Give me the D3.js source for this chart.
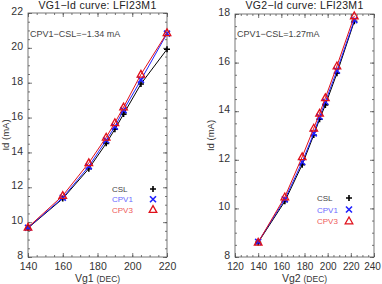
<!DOCTYPE html>
<html>
<head>
<meta charset="utf-8">
<script src="https://cdn.jsdelivr.net/npm/d3@7"></script>
<style>
  body { margin: 0; background: #fff; }
  svg { display: block; font-family: "Liberation Sans", Arial, sans-serif; }
</style>
</head>
<body>
<div id="chart"></div>
<script>
// data
var vg1 = [140, 160, 175, 185, 190, 195, 205, 220];
var vg1Csl  = [9.66, 11.35, 13.07, 14.52, 15.33, 16.20, 17.93, 19.92];
var vg1Cpv1 = [9.68, 11.40, 13.20, 14.70, 15.48, 16.43, 18.16, 20.82];
var vg1Cpv3 = [9.70, 11.52, 13.40, 14.87, 15.70, 16.60, 18.48, 20.86];

var vg2 = [140, 163, 178, 188, 193, 198, 208, 223];
var vg2Csl  = [8.60, 10.29, 11.80, 13.02, 13.67, 14.26, 15.56, 17.70];
var vg2Cpv1 = [8.62, 10.37, 11.91, 13.09, 13.77, 14.39, 15.67, 17.75];
var vg2Cpv3 = [8.60, 10.47, 12.12, 13.30, 13.91, 14.55, 15.86, 17.92];

var seriesNames = ["CSL", "CPV1", "CPV3"];
var seriesColors = ["#000000", "#2020ff", "#e0101a"];
var legendTextColors = ["#444444", "#6a6aff", "#ee5a5a"];

var svg = d3.select("#chart").append("svg")
    .attr("width", 382).attr("height", 284);

function panel(opt) {
    var x = d3.scaleLinear().domain(opt.xDomain).range([opt.left, opt.right]);
    var y = d3.scaleLinear().domain(opt.yDomain).range([opt.bottom, opt.top]);
    var g = svg.append("g");

    // frame
    g.append("rect")
        .attr("x", opt.left).attr("y", opt.top)
        .attr("width", opt.right - opt.left).attr("height", opt.bottom - opt.top)
        .attr("fill", "none").attr("stroke", "#555").attr("stroke-width", 0.8);

    var xMinor = d3.range(opt.xDomain[0], opt.xDomain[1] + 0.01, 5);
    var yMinor = d3.range(opt.yDomain[0], opt.yDomain[1] + 0.01, 0.5);

    function drawAxis(axis, transform, labels) {
        var a = g.append("g").attr("transform", transform).call(axis);
        a.select(".domain").remove();
        a.selectAll("line").attr("stroke", "#555").attr("stroke-width", 0.8);
        a.selectAll("text").attr("fill", "#333").style("font-size", "10.5px")
            .style("font-family", "Liberation Sans, Arial, sans-serif");
        if (!labels) a.selectAll("text").remove();
        return a;
    }
    // bottom / top
    drawAxis(d3.axisBottom(x).tickValues(xMinor).tickSize(-2).tickFormat(""), "translate(0," + opt.bottom + ")", false);
    var bx = drawAxis(d3.axisBottom(x).tickValues(opt.xTicks).tickSize(-4).tickPadding(6), "translate(0," + opt.bottom + ")", true);
    bx.selectAll("text").style("font-size", opt.xTickFont);
    // nudge the last label so it stays inside the window
    bx.selectAll("text").filter(function(d) { return x(d) > 370; }).attr("x", -2);
    drawAxis(d3.axisTop(x).tickValues(xMinor).tickSize(-2).tickFormat(""), "translate(0," + opt.top + ")", false);
    drawAxis(d3.axisTop(x).tickValues(opt.xTicks).tickSize(-4).tickFormat(""), "translate(0," + opt.top + ")", false);
    // left / right
    drawAxis(d3.axisLeft(y).tickValues(yMinor).tickSize(-2).tickFormat(""), "translate(" + opt.left + ",0)", false);
    drawAxis(d3.axisLeft(y).tickValues(opt.yTicks).tickSize(-4).tickPadding(5), "translate(" + opt.left + ",0)", true)
        .selectAll("text").attr("dy", "0.15em");
    drawAxis(d3.axisRight(y).tickValues(yMinor).tickSize(-2).tickFormat(""), "translate(" + opt.right + ",0)", false);
    drawAxis(d3.axisRight(y).tickValues(opt.yTicks).tickSize(-4).tickFormat(""), "translate(" + opt.right + ",0)", false);

    // title
    g.append("text").attr("x", (opt.left + opt.right) / 2).attr("y", 9)
        .attr("text-anchor", "middle").attr("fill", "#222")
        .style("font-size", "10.5px").style("letter-spacing", "0.3px").text(opt.title);

    // axis labels
    var xl = g.append("text").attr("x", (opt.left + opt.right) / 2).attr("y", 282)
        .attr("text-anchor", "middle").attr("fill", "#333").style("font-size", "10.5px");
    xl.append("tspan").text(opt.xLabel + " ");
    xl.append("tspan").style("font-size", "8.5px").text("(DEC)");

    g.append("text")
        .attr("transform", "translate(" + opt.yLabelX + "," + (opt.top + opt.bottom) / 2 + ") rotate(-90)")
        .attr("text-anchor", "middle").attr("fill", "#333").style("font-size", "9.5px")
        .text("Id   (mA)");

    // annotation
    g.append("text").attr("x", opt.left + 2).attr("y", 37)
        .attr("fill", "#444").style("font-size", "9px").text(opt.note);

    // series
    var line = d3.line().x(function(d) { return x(d[0]); }).y(function(d) { return y(d[1]); });
    opt.series.forEach(function(vals, i) {
        var pts = opt.xs.map(function(v, j) { return [v, vals[j]]; });
        g.append("path").datum(pts).attr("d", line)
            .attr("fill", "none").attr("stroke", seriesColors[i]).attr("stroke-width", 1);
        pts.forEach(function(p) { marker(g, i, x(p[0]), y(p[1])); });
    });

    // legend
    seriesNames.forEach(function(name, i) {
        var ly = opt.legendY + i * opt.legendGap;
        g.append("text").attr("x", opt.legendX).attr("y", ly + 3)
            .attr("fill", legendTextColors[i]).style("font-size", "8px").text(name);
        marker(g, i, opt.legendSymX, ly);
    });
}

function marker(g, i, cx, cy) {
    var c = seriesColors[i];
    if (i === 0) {
        g.append("path").attr("d", "M" + (cx - 3) + "," + cy + "h6M" + cx + "," + (cy - 3) + "v6")
            .attr("stroke", c).attr("stroke-width", 1.6).attr("fill", "none");
    } else if (i === 1) {
        g.append("path").attr("d", "M" + (cx - 3) + "," + (cy - 3) + "l6,6M" + (cx - 3) + "," + (cy + 3) + "l6,-6")
            .attr("stroke", c).attr("stroke-width", 1.6).attr("fill", "none");
    } else {
        g.append("path").attr("d", "M" + cx + "," + (cy - 4) + "L" + (cx + 3.8) + "," + (cy + 2.8) + "L" + (cx - 3.8) + "," + (cy + 2.8) + "Z")
            .attr("stroke", c).attr("stroke-width", 1.3).attr("fill", "none");
    }
}

panel({
    left: 28, right: 167, top: 13, bottom: 257,
    xDomain: [140, 220], yDomain: [8, 22],
    xTicks: [140, 160, 180, 200, 220], yTicks: [8, 10, 12, 14, 16, 18, 20, 22],
    xTickFont: "10.5px",
    title: "VG1\u2212Id curve: LFI23M1", xLabel: "Vg1",
    note: "CPV1\u2212CSL=\u22121.34 mA", yLabelX: 9,
    xs: vg1, series: [vg1Csl, vg1Cpv1, vg1Cpv3],
    legendX: 112, legendSymX: 153, legendY: 189, legendGap: 10.3
});

panel({
    left: 235, right: 374, top: 14, bottom: 257,
    xDomain: [120, 240], yDomain: [8, 18],
    xTicks: [120, 140, 160, 180, 200, 220, 240], yTicks: [8, 10, 12, 14, 16, 18],
    xTickFont: "10px",
    title: "VG2\u2212Id curve: LFI23M1", xLabel: "Vg2",
    note: "CPV1\u2212CSL=1.27mA", yLabelX: 214,
    xs: vg2, series: [vg2Csl, vg2Cpv1, vg2Cpv3],
    legendX: 317, legendSymX: 349, legendY: 198, legendGap: 11.5
});
</script>
</body>
</html>
